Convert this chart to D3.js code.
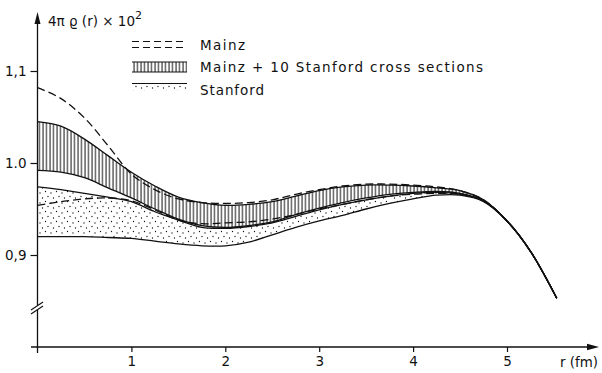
<!DOCTYPE html>
<html>
<head>
<meta charset="utf-8">
<script src="https://cdn.jsdelivr.net/npm/d3@7"></script>
<style>
  html, body { margin: 0; padding: 0; background: #fff; }
  svg { display: block; }
</style>
</head>
<body>
<svg id="chart" width="602" height="373"></svg>
<script>
// radius in fm, density values are 4*pi*rho(r) x 10^2
const radius = [0, 0.25, 0.5, 0.75, 1, 1.25, 1.5, 1.75, 2, 2.25, 2.5, 2.75, 3, 3.25, 3.5, 3.75, 4, 4.25, 4.5, 4.75, 5, 5.25, 5.53];
const mainzUpper = [1.082, 1.070, 1.049, 1.019, 0.988, 0.971, 0.961, 0.957, 0.956, 0.957, 0.960, 0.966, 0.971, 0.975, 0.977, 0.977, 0.976, 0.974, 0.970, 0.960, 0.937, 0.904, 0.853];
const mainzLower = [0.954, 0.958, 0.961, 0.962, 0.959, 0.949, 0.938, 0.934, 0.935, 0.936, 0.939, 0.944, 0.950, 0.955, 0.960, 0.964, 0.966, 0.967, 0.966, 0.959, 0.937, 0.904, 0.853];
const combinedUpper = [1.045, 1.040, 1.026, 1.008, 0.990, 0.975, 0.963, 0.957, 0.954, 0.955, 0.958, 0.964, 0.970, 0.974, 0.976, 0.976, 0.975, 0.973, 0.970, 0.960, 0.937, 0.904, 0.853];
const combinedLower = [0.992, 0.990, 0.984, 0.973, 0.962, 0.950, 0.939, 0.932, 0.930, 0.932, 0.936, 0.944, 0.951, 0.957, 0.962, 0.966, 0.968, 0.969, 0.967, 0.959, 0.937, 0.904, 0.853];
const stanfordUpper = [0.974, 0.971, 0.967, 0.963, 0.958, 0.947, 0.938, 0.930, 0.929, 0.931, 0.935, 0.942, 0.949, 0.955, 0.960, 0.964, 0.967, 0.968, 0.966, 0.959, 0.937, 0.904, 0.853];
const stanfordLower = [0.920, 0.920, 0.920, 0.919, 0.918, 0.915, 0.912, 0.910, 0.910, 0.914, 0.922, 0.930, 0.937, 0.943, 0.950, 0.956, 0.961, 0.965, 0.965, 0.958, 0.937, 0.904, 0.853];

const legendLabels = ["Mainz", "Mainz + 10 Stanford cross sections", "Stanford"];
const xTicks = [1, 2, 3, 4, 5];
const yTicks = [0.9, 1.0, 1.1];
const yTickLabels = ["0,9", "1.0", "1,1"];

const ink = "#111";
const font = "'DejaVu Sans', sans-serif";

const svg = d3.select("#chart");

const x = d3.scaleLinear().domain([0, 5]).range([37.5, 507]);
const y = d3.scaleLinear().domain([0.9, 1.1]).range([255, 71]);

// patterns for the two bands
const defs = svg.append("defs");
const hatch = defs.append("pattern")
    .attr("id", "hatch")
    .attr("patternUnits", "userSpaceOnUse")
    .attr("width", 3.5)
    .attr("height", 10);
hatch.append("line")
    .attr("x1", 1).attr("x2", 1)
    .attr("y1", 0).attr("y2", 10)
    .attr("stroke", ink)
    .attr("stroke-width", 1);

const dots = defs.append("pattern")
    .attr("id", "dots")
    .attr("patternUnits", "userSpaceOnUse")
    .attr("width", 11)
    .attr("height", 10);
[[1.5, 1.5], [7, 3], [4, 6.5], [9.5, 8]].forEach(p => {
    dots.append("circle").attr("cx", p[0]).attr("cy", p[1]).attr("r", 0.65).attr("fill", ink);
});

const pts = vals => radius.map((r, i) => [r, vals[i]]);
const band = (lo, hi) => radius.map((r, i) => ({ r: r, lo: lo[i], hi: hi[i] }));

const curve = d3.curveCatmullRom.alpha(0.5);
const line = d3.line().x(d => x(d[0])).y(d => y(d[1])).curve(curve);
const area = d3.area().x(d => x(d.r)).y0(d => y(d.lo)).y1(d => y(d.hi)).curve(curve);

const plot = svg.append("g");

plot.append("path")
    .attr("d", area(band(stanfordLower, stanfordUpper)))
    .attr("fill", "url(#dots)");

plot.append("path")
    .attr("d", area(band(combinedLower, combinedUpper)))
    .attr("fill", "url(#hatch)");

[stanfordLower, stanfordUpper, combinedLower, combinedUpper].forEach(vals => {
    plot.append("path")
        .attr("d", line(pts(vals)))
        .attr("fill", "none")
        .attr("stroke", ink)
        .attr("stroke-width", 1.3);
});

[mainzUpper, mainzLower].forEach(vals => {
    plot.append("path")
        .attr("d", line(pts(vals)))
        .attr("fill", "none")
        .attr("stroke", ink)
        .attr("stroke-width", 1.3)
        .attr("stroke-dasharray", "8,4");
});

// axes
const x0 = x(0), yAxisPos = 347;

const xAxis = svg.append("g")
    .attr("transform", `translate(0,${yAxisPos})`)
    .call(d3.axisBottom(x).tickValues(xTicks).tickFormat(d3.format("d")).tickSize(5).tickPadding(4));
const yAxis = svg.append("g")
    .attr("transform", `translate(${x0},0)`)
    .call(d3.axisLeft(y).tickValues(yTicks).tickFormat((d, i) => yTickLabels[i]).tickSize(7).tickPadding(4));

[xAxis, yAxis].forEach(g => {
    g.select(".domain").remove();
    g.selectAll("line").attr("stroke", ink).attr("stroke-width", 1.2);
    g.selectAll("text").attr("fill", ink).attr("font-family", font).attr("font-size", 13.5);
});

svg.append("line")
    .attr("x1", 31).attr("x2", 590)
    .attr("y1", yAxisPos).attr("y2", yAxisPos)
    .attr("stroke", ink).attr("stroke-width", 1.3);
svg.append("path")
    .attr("d", `M599,${yAxisPos} L587,${yAxisPos - 3.2} L587,${yAxisPos + 3.2} Z`)
    .attr("fill", ink);

svg.append("line")
    .attr("x1", x0).attr("x2", x0)
    .attr("y1", 353).attr("y2", 22)
    .attr("stroke", ink).attr("stroke-width", 1.3);
svg.append("path")
    .attr("d", `M${x0},12 L${x0 - 3},24 L${x0 + 3},24 Z`)
    .attr("fill", ink);

// axis break
svg.append("rect").attr("x", x0 - 2).attr("y", 305).attr("width", 4).attr("height", 5).attr("fill", "#fff");
[0, 4].forEach(dy => {
    svg.append("line")
        .attr("x1", 31).attr("y1", 310 + dy)
        .attr("x2", 43).attr("y2", 302 + dy)
        .attr("stroke", ink).attr("stroke-width", 1.1);
});

svg.append("text")
    .attr("x", 560).attr("y", 367)
    .attr("font-family", font).attr("font-size", 13.5).attr("fill", ink)
    .attr("textLength", 38).attr("lengthAdjust", "spacingAndGlyphs")
    .text("r (fm)");

const yLabel = svg.append("text")
    .attr("x", 48).attr("y", 26)
    .attr("font-family", font).attr("font-size", 13.5).attr("fill", ink);
yLabel.append("tspan").text("4π ϱ (r) × 10");
yLabel.append("tspan").attr("dy", -7).attr("font-size", 11).text("2");

// legend
const lx0 = 132, lx1 = 187, tx = 200;
const legend = svg.append("g");

[41.5, 47.5].forEach(ly => {
    legend.append("line")
        .attr("x1", lx0).attr("x2", lx1).attr("y1", ly).attr("y2", ly)
        .attr("stroke", ink).attr("stroke-width", 1.1).attr("stroke-dasharray", "7,4");
});

legend.append("rect")
    .attr("x", lx0).attr("y", 62).attr("width", lx1 - lx0).attr("height", 10)
    .attr("fill", "url(#hatch)");
[62, 72].forEach(ly => {
    legend.append("line")
        .attr("x1", lx0).attr("x2", lx1).attr("y1", ly).attr("y2", ly)
        .attr("stroke", ink).attr("stroke-width", 1.2);
});

legend.append("rect")
    .attr("x", lx0).attr("y", 84).attr("width", lx1 - lx0).attr("height", 7)
    .attr("fill", "url(#dots)");
legend.append("line")
    .attr("x1", lx0).attr("x2", lx1).attr("y1", 83.5).attr("y2", 83.5)
    .attr("stroke", ink).attr("stroke-width", 1.2);

const labelPos = [[50, 45], [72, 283], [95, 64]];
legendLabels.forEach((t, i) => {
    legend.append("text")
        .attr("x", tx).attr("y", labelPos[i][0])
        .attr("font-family", font).attr("font-size", 13.5).attr("fill", ink)
        .attr("textLength", labelPos[i][1]).attr("lengthAdjust", "spacing")
        .text(t);
});
</script>
</body>
</html>
